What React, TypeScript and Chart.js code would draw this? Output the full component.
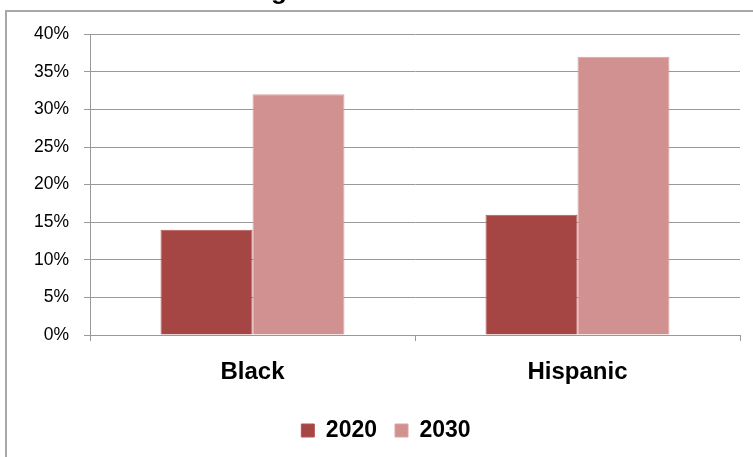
import React, { useEffect, useRef } from "react";
import { Chart, registerables } from "chart.js";

Chart.register(...registerables);

const titleText = "Graduating from the Public Schools";
const categories = ["Black", "Hispanic"];
const seriesLabels = ["2020", "2030"];
const values2020 = [14, 16];
const values2030 = [32, 37];
const yMin = 0;
const yMax = 40;
const yStep = 5;

const OFF = 24;
const W = 753;
const H = 457;
const FONT = "Arial, 'Liberation Sans', sans-serif";

const legendShift = {
  id: "legendShift",
  afterLayout(chart: any) {
    const lg = chart.legend;
    if (lg) {
      lg.left += 16;
      lg.right += 16;
    }
  },
};

export default function App() {
  const ref = useRef<HTMLCanvasElement>(null);

  useEffect(() => {
    if (!ref.current) return;
    const chart = new Chart(ref.current, {
      type: "bar",
      data: {
        labels: categories,
        datasets: [
          {
            label: seriesLabels[0],
            data: values2020,
            backgroundColor: "#A64644",
            borderColor: "#B25553",
            borderWidth: 1,
            categoryPercentage: 0.566,
            barPercentage: 1,
          },
          {
            label: seriesLabels[1],
            data: values2030,
            backgroundColor: "#D19190",
            borderColor: "#DCA3A2",
            borderWidth: 1,
            categoryPercentage: 0.566,
            barPercentage: 1,
          },
        ],
      },
      plugins: [legendShift],
      options: {
        animation: false,
        responsive: false,
        maintainAspectRatio: false,
        layout: { padding: { left: 0, right: 13, top: 0, bottom: 5 } },
        plugins: {
          title: {
            display: true,
            text: titleText,
            color: "#000",
            font: { family: FONT, size: 26, weight: "bold" },
            padding: { top: 0, bottom: 27 },
          },
          legend: {
            position: "bottom",
            labels: {
              color: "#000",
              boxWidth: 13,
              boxHeight: 13,
              padding: 18,
              font: { family: FONT, size: 23, weight: "bold" },
            },
          },
          tooltip: { enabled: false },
        },
        scales: {
          x: {
            grid: {
              offset: true,
              drawOnChartArea: false,
              drawTicks: true,
              tickLength: 6,
              color: "#999",
            },
            border: { color: "#999", width: 1 },
            ticks: {
              color: "#000",
              padding: 17,
              font: { family: FONT, size: 24, weight: "bold" },
            },
            afterFit: (s: any) => {
              s.height = 66;
            },
          },
          y: {
            min: yMin,
            max: yMax,
            ticks: {
              stepSize: yStep,
              color: "#000",
              padding: 15,
              font: { family: FONT, size: 17.5 },
              callback: (v: any) => v + "%",
            },
            grid: { color: "#999", tickLength: 6, lineWidth: 1 },
            border: { color: "#999", width: 1 },
            afterFit: (s: any) => {
              s.width = 90;
            },
          },
        },
      },
    });
    return () => chart.destroy();
  }, []);

  return (
    <div
      style={{
        position: "fixed",
        left: 0,
        top: 0,
        width: W,
        height: H,
        overflow: "hidden",
        background: "#fff",
      }}
    >
      <div
        style={{
          position: "absolute",
          left: 5,
          top: 10,
          width: 1000,
          height: 1000,
          border: "2px solid #a8a8a8",
        }}
      />
      <canvas
        ref={ref}
        width={W}
        height={H + OFF}
        style={{ position: "absolute", left: 0, top: -OFF, width: W, height: H + OFF }}
      />
    </div>
  );
}
